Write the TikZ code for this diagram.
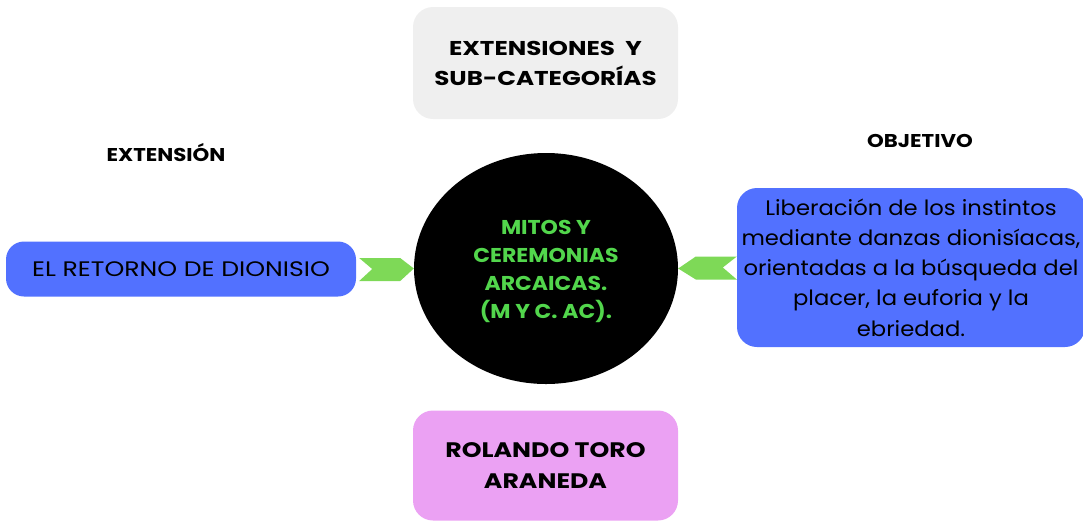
\documentclass[tikz,border=0pt]{standalone}
\usepackage{fontspec}
\setmainfont{Poppins}
\newfontfamily\fttitle[FakeStretch=1.23]{Poppins}
\newfontfamily\ftcenter[FakeStretch=1.1]{Poppins}
\newfontfamily\ftleft[FakeStretch=1.2]{Poppins}
\newfontfamily\ftright[FakeStretch=1.08]{Poppins}
\newfontfamily\ftlabel[FakeStretch=1.15]{Poppins}
\usetikzlibrary{shapes.geometric}
\definecolor{boxblue}{HTML}{5271FF}
\definecolor{boxgray}{HTML}{EFEFEF}
\definecolor{boxpink}{HTML}{EBA1F3}
\definecolor{arrgreen}{HTML}{7ED957}
\definecolor{txtgreen}{HTML}{52D64C}
\tikzset{
  rbox/.style={rounded corners=20pt, inner sep=0pt, align=center},
  titletxt/.style={font=\fttitle\fontsize{20}{30}\selectfont\bfseries},
  labeltxt/.style={font=\ftlabel\fontsize{18.5}{22}\selectfont\bfseries},
  chev/.style={fill=arrgreen, draw=none},
}
\begin{document}
\begin{tikzpicture}[x=1pt,y=-1pt]
\useasboundingbox (0,0) rectangle (1083,520);
% top box
\node[rbox, fill=boxgray, minimum width=265pt, minimum height=112pt, titletxt] (top) at (545.5,63) {EXTENSIONES\ \ Y\\SUB-CATEGORÍAS};
% bottom box
\node[rbox, fill=boxpink, minimum width=265pt, minimum height=110pt, font=\ftleft\fontsize{21}{31}\selectfont\bfseries] (bot) at (545.5,465.5) {ROLANDO TORO\\ARANEDA};
% center ellipse
\node[ellipse, fill=black, minimum width=264pt, minimum height=231pt, inner sep=0pt] (ctr) at (546,268.5) {};
\node[align=center, text=txtgreen, font=\ftcenter\fontsize{20}{28}\selectfont\bfseries, inner sep=0pt] (ctrtxt) at ([yshift=-2.5pt]ctr.center) {MITOS Y\\CEREMONIAS\\ARCAICAS.\\(M Y C. AC).};
% left box
\node[rbox, fill=boxblue, minimum width=350pt, minimum height=55pt, font=\ftleft\fontsize{21}{30}\selectfont, rounded corners=18pt] (lbox) at (181,269) {EL RETORNO DE DIONISIO};
% right box
\node[rbox, fill=boxblue, minimum width=348pt, minimum height=159pt, font=\ftright\fontsize{21}{30.3}\selectfont] (rbox) at (911,267.5) {Liberación de los instintos\\mediante danzas dionisíacas,\\orientadas a la búsqueda del\\placer, la euforia y la\\ebriedad.};
% labels
\node[labeltxt] (ext) at (166,153) {EXTENSIÓN};
\node[labeltxt] (obj) at (920,141) {OBJETIVO};
% chevron connectors
\path[chev] ([xshift=3pt,yshift=-12pt]lbox.east) -- ++(41,0) -- (ctr.west) -- ([xshift=44pt,yshift=11pt]lbox.east) -- ++(-41,0) -- ([xshift=16pt]lbox.east) -- cycle;
\path[chev] ([xshift=0pt,yshift=-12pt]rbox.west) -- ++(-41,0) -- (ctr.east) -- ([xshift=-41pt,yshift=11pt]rbox.west) -- ++(41,0) -- ([xshift=-14pt]rbox.west) -- cycle;
\end{tikzpicture}
\end{document}
